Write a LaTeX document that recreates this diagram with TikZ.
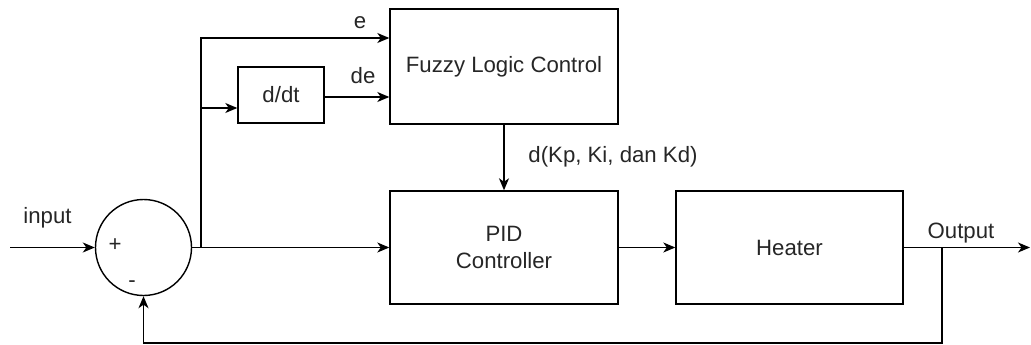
\documentclass[tikz,border=0pt]{standalone}
\usepackage{fontspec}
\setmainfont{Liberation Sans}
\usetikzlibrary{arrows.meta}
\begin{document}
\begin{tikzpicture}[x=1pt,y=-1pt,
  every node/.style={font=\fontsize{22.2}{27}\selectfont, text=black!85},
  blk/.style={draw, line width=1.4pt, inner sep=0pt, align=center},
  sumj/.style={draw, circle, line width=1.4pt, inner sep=0pt, minimum size=96pt},
  lbl/.style={inner sep=1pt},
  arr/.style={line width=1.4pt, -{Stealth[length=12pt,width=10pt,inset=3.5pt]}},
  ln/.style={line width=1.4pt}]
\useasboundingbox (0,0) rectangle (1031,345);
\node[sumj] (sum) at (143.5,247.5) {};
\node[blk, minimum width=228pt, minimum height=115pt] (flc) at (504,66.5) {Fuzzy Logic Control};
\node[blk, minimum width=228pt, minimum height=113pt] (pid) at (504,247.5) {PID\\Controller};
\node[blk, minimum width=227pt, minimum height=113pt] (heater) at (789.5,247.5) {Heater};
\node[blk, minimum width=86pt, minimum height=56pt] (dt) at (281,95) {d/dt};
\coordinate (in) at (10,247.5);
\coordinate (br) at (201,247.5);
\coordinate (fb) at (942,247.5);
\coordinate (fbb) at (942,343);
\coordinate (out) at (1030,247.5);
\node[lbl] (linput) at (47.5,218) {input};
\node[lbl] (lplus) at (115,245) {+};
\node[lbl] (lminus) at (132,284) {-};
\node[lbl] (le) at (360,23) {e};
\node[lbl] (lde) at (363,76) {de};
\node[lbl] (lk) at (613,157) {d(Kp, Ki, dan Kd)};
\node[lbl] (lout) at (961,233) {Output};
\draw[arr] (in) -- (sum.west);
\draw[arr] (sum.east) -- (pid.west);
\draw[arr] (br) |- ([yshift=28.5pt]flc.west);
\draw[arr] ([yshift=-13pt]dt.west -| br) -- ([yshift=-13pt]dt.west);
\draw[arr] ([yshift=-2pt]dt.east) -- ([yshift=-2pt]dt.east -| flc.west);
\draw[arr] (flc.south) -- (pid.north);
\draw[arr] (pid.east) -- (heater.west);
\draw[arr] (heater.east) -- (out);
\draw[arr] (fb) -- (fbb) -| (sum.south);
\end{tikzpicture}
\end{document}
